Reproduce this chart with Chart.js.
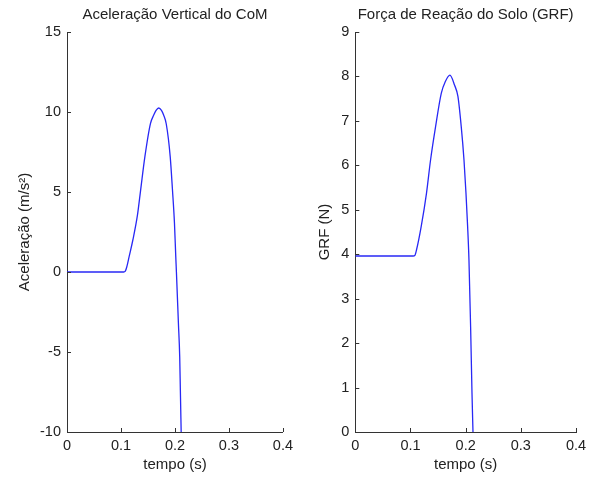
<!DOCTYPE html>
<html>
<head>
<meta charset="utf-8">
<script src="https://cdn.jsdelivr.net/npm/chart.js@4/dist/chart.umd.min.js"></script>
<style>
  html, body { margin: 0; padding: 0; background: #fff; }
  #wrap { position: relative; width: 596px; height: 481px; overflow: hidden; }
  .panel { position: absolute; top: 0; width: 298px; height: 481px; }
</style>
</head>
<body>
<div id="wrap">
  <div class="panel" style="left:0"><canvas id="c1" width="298" height="481"></canvas></div>
  <div class="panel" style="left:298px"><canvas id="c2" width="298" height="481"></canvas></div>
</div>
<script>
// ---- data ----
const accelTime = [0, 0.105, 0.108, 0.111, 0.1151, 0.122, 0.1305, 0.1364, 0.1443, 0.1547, 0.1607, 0.165, 0.1699, 0.175, 0.179, 0.1839, 0.1912, 0.1954, 0.1991, 0.2015, 0.2027, 0.2064, 0.2088, 0.2100, 0.2115];
const accelValues = [0, 0, 0.05, 0.35, 0.96, 2.0, 3.55, 5.12, 7.21, 9.29, 9.81, 10.1, 10.25, 10.1, 9.81, 9.25, 7.21, 5.12, 3.04, 0.96, 0, -3.21, -5.29, -7.38, -10];

const grfTime = [0, 0.105, 0.1078, 0.111, 0.1194, 0.129, 0.1364, 0.1455, 0.1558, 0.163, 0.1715, 0.18, 0.186, 0.192, 0.197, 0.2006, 0.2036, 0.206, 0.209, 0.2115, 0.2133];
const grfValues = [3.96, 3.96, 3.97, 4.1, 4.62, 5.37, 6.12, 6.87, 7.62, 7.88, 8.03, 7.8, 7.55, 6.87, 6.12, 5.37, 4.62, 3.87, 2.37, 0.87, 0];

const xTickLabels = ['0', '0.1', '0.2', '0.3', '0.4'];
const accelTickLabels = ['-10', '-5', '0', '5', '10', '15'];
const grfTickLabels = ['0', '1', '2', '3', '4', '5', '6', '7', '8', '9'];

const titles = ['Aceleração Vertical do CoM', 'Força de Reação do Solo (GRF)'];
const xTitle = 'tempo (s)';
const yTitles = ['Aceleração (m/s²)', 'GRF (N)'];

// ---- styling ----
const FONT = "'Liberation Sans', Arial, sans-serif";
const TXT = '#222222';
const AXIS = '#333333';
const LINE = 'rgb(40,40,245)';

const inwardTicks = {
  id: 'inwardTicks',
  afterDraw(chart) {
    const ctx = chart.ctx;
    const a = chart.chartArea;
    ctx.save();
    ctx.strokeStyle = AXIS;
    ctx.lineWidth = 1;
    const xs = chart.scales.x, ys = chart.scales.y;
    xs.ticks.forEach(t => {
      const px = Math.round(xs.getPixelForValue(t.value)) + 0.5;
      ctx.beginPath(); ctx.moveTo(px, a.bottom); ctx.lineTo(px, a.bottom - 4); ctx.stroke();
    });
    ys.ticks.forEach(t => {
      const py = Math.round(ys.getPixelForValue(t.value)) + 0.5;
      ctx.beginPath(); ctx.moveTo(a.left, py); ctx.lineTo(a.left + 4, py); ctx.stroke();
    });
    ctx.restore();
  }
};

function makeChart(id, tArr, vArr, yMin, yMax, yStep, yLabels, title, yTitle, yWidth, padRight, yTitlePad) {
  const pts = tArr.map((t, i) => ({ x: t, y: vArr[i] }));
  return new Chart(document.getElementById(id), {
    type: 'line',
    data: { datasets: [{ data: pts, borderColor: LINE, borderWidth: 1.3, pointRadius: 0, fill: false, cubicInterpolationMode: 'monotone' }] },
    options: {
      responsive: false,
      animation: false,
      devicePixelRatio: 1,
      layout: { padding: { left: 0, right: padRight, top: 0, bottom: 0 } },
      plugins: {
        legend: { display: false },
        tooltip: { enabled: false },
        title: { display: true, fullSize: false, text: title, color: TXT, font: { family: FONT, size: 15, weight: 'normal' }, padding: { top: 6, bottom: 8 } }
      },
      scales: {
        x: {
          type: 'linear', min: 0, max: 0.4,
          grid: { display: false, drawTicks: false },
          border: { display: true, color: AXIS, width: 1 },
          ticks: { stepSize: 0.1, autoSkip: false, maxRotation: 0, padding: 5, color: TXT, font: { family: FONT, size: 14.5 },
                   callback: (v, i) => xTickLabels[i] },
          title: { display: true, text: xTitle, color: TXT, font: { family: FONT, size: 15 }, padding: { top: 0, bottom: 7 } },
          afterFit: s => { s.height = 49; }
        },
        y: {
          type: 'linear', min: yMin, max: yMax,
          grid: { display: false, drawTicks: false },
          border: { display: true, color: AXIS, width: 1 },
          ticks: { stepSize: yStep, autoSkip: false, padding: 6, color: TXT, font: { family: FONT, size: 14.5 },
                   callback: (v, i) => yLabels[i] },
          title: { display: true, text: yTitle, color: TXT, font: { family: FONT, size: 15 }, padding: { top: yTitlePad, bottom: 0 } },
          afterFit: s => { s.width = yWidth; }
        }
      }
    },
    plugins: [inwardTicks]
  });
}

makeChart('c1', accelTime, accelValues, -10, 15, 5, accelTickLabels, titles[0], yTitles[0], 67, 12, 16);
makeChart('c2', grfTime, grfValues, 0, 9, 1, grfTickLabels, titles[1], yTitles[1], 57.3, 20, 18);
</script>
</body>
</html>
